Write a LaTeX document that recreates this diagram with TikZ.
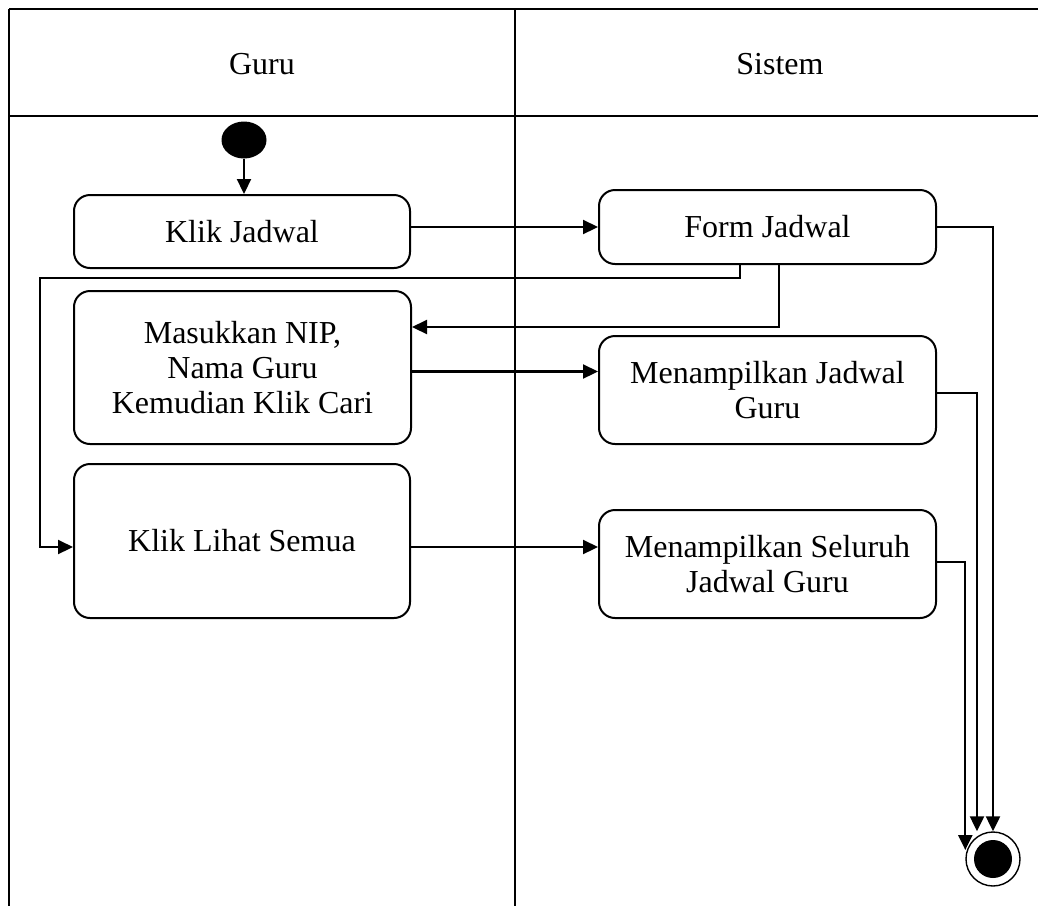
\documentclass[tikz,border=0pt]{standalone}
\usepackage{fontspec}
\setmainfont{Liberation Serif}
\usepackage{tikz}
\usetikzlibrary{arrows.meta,shapes.geometric}
\tikzset{>/.tip={Triangle[length=7.5pt,width=7pt]},
  lane/.style={line width=1.3pt},
  act/.style={draw, line width=1pt, rounded corners=8pt, align=center,
    font=\fontsize{16}{17.5}\selectfont, inner sep=2pt},
  flow/.style={->, line width=1.1pt},
  initial/.style={ellipse, fill=black, minimum width=22.5pt, minimum height=18.5pt, inner sep=0pt},
  final/.style={circle, draw, line width=0.7pt, minimum size=27pt, inner sep=0pt},
  finaldot/.style={circle, fill=black, minimum size=19pt, inner sep=0pt}}

\begin{document}
\begin{tikzpicture}[x=0.5pt,y=-0.5pt]
\useasboundingbox (0,0) rectangle (1038,906);

% swimlanes
\draw[lane] (9,9) -- (1038,9);
\draw[lane] (9,116) -- (1038,116);
\draw[lane] (9,9) -- (9,906);
\draw[lane] (515,9) -- (515,906);
\node[font=\fontsize{16}{17.5}\selectfont] (guru) at (262,64) {Guru};
\node[font=\fontsize{16}{17.5}\selectfont] (sistem) at (780,64) {Sistem};

\node[initial] (start) at (244,140) {};
\node[final] (end) at (993,859) {};
\node[finaldot] at (end) {};

\node[act, minimum width=168pt, minimum height=36.5pt] (klik) at (242,231.5) {Klik Jadwal};
\node[act, minimum width=168.5pt, minimum height=37pt] (form) at (767.5,227) {Form Jadwal};
\node[act, minimum width=168.5pt, minimum height=76.5pt] (masuk) at (242.5,367.5) {Masukkan NIP,\\Nama Guru\\Kemudian Klik Cari};
\node[act, minimum width=168.5pt, minimum height=54pt] (tampil) at (767.5,390) {Menampilkan Jadwal\\Guru};
\node[act, minimum width=168pt, minimum height=77pt] (lihat) at (242,541) {Klik Lihat Semua};
\node[act, minimum width=168.5pt, minimum height=54pt] (seluruh) at (767.5,564) {Menampilkan Seluruh\\Jadwal Guru};

\coordinate (back) at (40,278);
\coordinate (m1) at ([yshift=-2pt]masuk.east);
\coordinate (l1) at ([yshift=-3pt]lihat.east);

\draw[flow] (start) -- (start |- klik.north);
\draw[flow] (klik.east |- form.west) -- (form.west);
\draw[flow] ([xshift=-13.75pt]form.south) |- (back) |- ([yshift=-3pt]lihat.west);
\draw[flow] ([xshift=5.75pt]form.south) |- ([yshift=20.25pt]masuk.east);
\draw[flow] (m1) -- (m1 -| tampil.west);
\draw[flow] (l1) -- (l1 -| seluruh.west);
\draw[flow] (form.east) -| (end.north);
\draw[flow] ([yshift=-1.5pt]tampil.east) -| ([xshift=-8pt]end.north);
\draw[flow] ([yshift=1pt]seluruh.east) -| ([yshift=4.5pt]end.west);
\end{tikzpicture}
\end{document}
